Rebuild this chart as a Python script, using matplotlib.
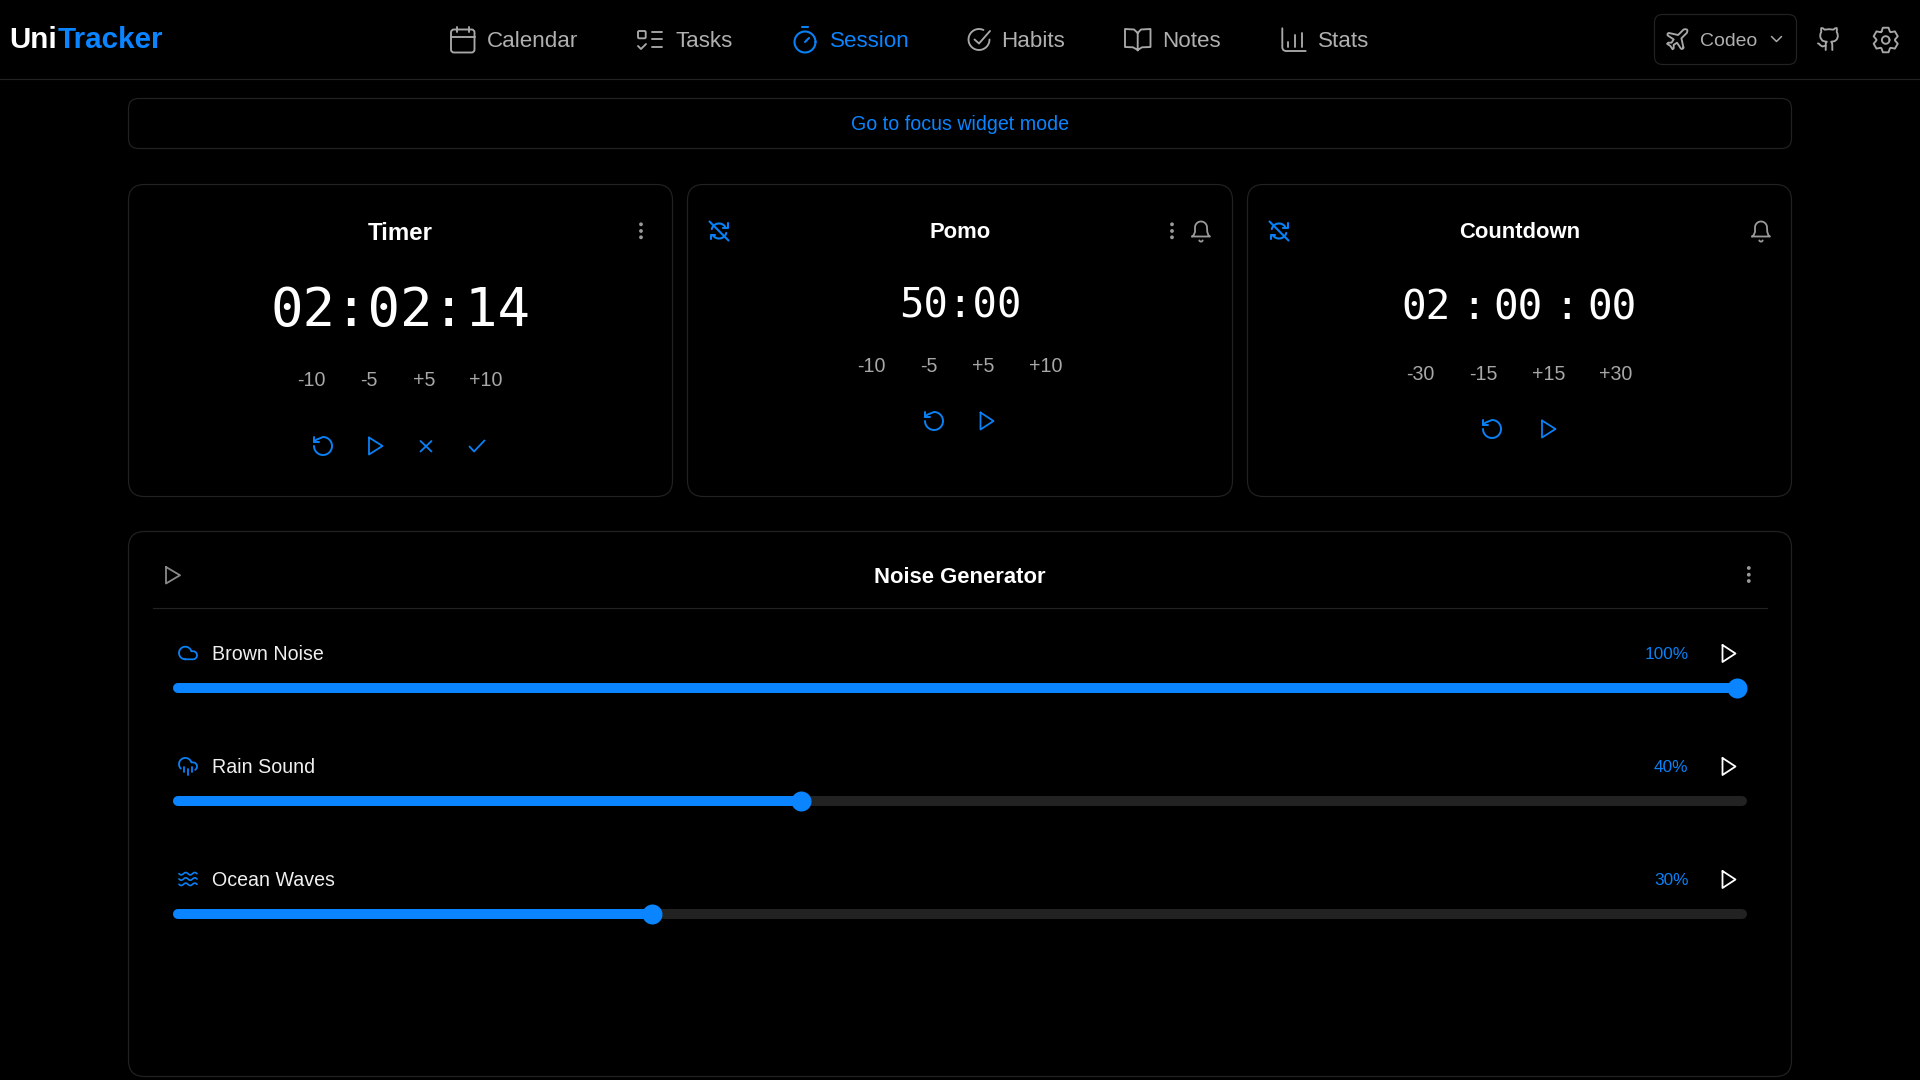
#!/usr/bin/env python3
import numpy as np
import matplotlib
matplotlib.use("Agg")
import matplotlib.pyplot as plt
from matplotlib.patches import FancyBboxPatch, Circle

BLUE = "#0a84ff"
ICON_BLUE = "#0a80f5"
GREY = "#a8a8a8"
BORDER = "#222222"
TRACK = "#222222"

# header
nav_labels = ["Calendar", "Tasks", "Session", "Habits", "Notes", "Stats"]
nav_x = [487, 675, 830, 1001.5, 1162.5, 1318]
focus_link = "Go to focus widget mode"
profile_name = "Codeo"

# timer cards
card_titles = ["Timer", "Pomo", "Countdown"]
card_title_x = [400.5, 960, 1519.5]
card_title_y = [239.5, 238.5, 238.5]
card_title_size = [24, 22, 22]
timer_value = "02:02:14"
pomo_value = "50:00"
countdown_parts = ["02", ":", "00", ":", "00"]
countdown_x = [1425.5, 1473.5, 1518, 1566.5, 1611.5]
timer_steps = ["-10", "-5", "+5", "+10"]
timer_step_x = [311.5, 369, 424, 486]
pomo_steps = ["-10", "-5", "+5", "+10"]
pomo_step_x = [871.5, 929, 983.5, 1045.5]
countdown_steps = ["-30", "-15", "+15", "+30"]
countdown_step_x = [1420, 1483.5, 1548.5, 1616]

# noise generator
noise_title = "Noise Generator"
noise_names = ["Brown Noise", "Rain Sound", "Ocean Waves"]
noise_pct_labels = ["100%", "40%", "30%"]
noise_levels = [100, 39.8, 30.2]
noise_rows_y = [688, 801, 914]

fig = plt.figure(figsize=(19.2, 10.8), dpi=100, facecolor="black")
ax = fig.add_axes([0, 0, 1, 1])
ax.set_xlim(0, 1920)
ax.set_ylim(1080, 0)
ax.axis("off")


def label(x, y, s, size, color="white", ha="left", weight="normal", family="Liberation Sans"):
    # size is in screen pixels, y is the baseline
    ax.text(x, y, s, fontsize=size * 0.72, color=color, ha=ha, va="baseline",
            fontweight=weight, family=family)


def box(x0, y0, x1, y1, r, color=BORDER, lw=0.85):
    ax.add_patch(FancyBboxPatch((x0, y0), x1 - x0, y1 - y0, boxstyle=f"round,pad=0,rounding_size={r}",
                                fc="none", ec=color, lw=lw))


def stroke(points, color=GREY, lw=1.35):
    pts = np.array(points, dtype=float)
    ax.plot(pts[:, 0], pts[:, 1], color=color, lw=lw, solid_capstyle="round", solid_joinstyle="round")


def arc(cx, cy, r, t0, t1, n=40):
    t = np.radians(np.linspace(t0, t1, n))
    return np.column_stack([cx + r * np.cos(t), cy + r * np.sin(t)])


def glyph(cx, cy, scale, paths, color=GREY, lw=1.35):
    # paths are drawn on a 24x24 grid centred on (12, 12)
    for path in paths:
        pts = (np.array(path, dtype=float) - 12) * scale + [cx, cy]
        stroke(pts, color, lw)


def play(x0, x1, y0, y1, color):
    ym = (y0 + y1) / 2
    stroke([(x0, y0), (x1, ym), (x0, y1), (x0, y0)], color, 1.3)


def kebab(x, ys, color="#9a9a9a"):
    for y in ys:
        ax.add_patch(Circle((x, y), 1.9, fc=color, ec="none"))


def undo(cx, cy):
    ring = arc(12, 12, 9, 180, -90)
    tail = [(5.26, 5.74), (3, 8)]
    glyph(cx, cy, 1.0, [np.vstack([ring, tail]), [(3, 3), (3, 8), (8, 8)]], ICON_BLUE, 1.4)


def bell(cx, cy, color="#9a9a9a"):
    dome = arc(12, 8, 6, 180, 360)
    body = np.vstack([[(3, 17), (4.5, 15.8), (6, 12.5)], [(6, 8)], dome, [(18, 8), (18.3, 12.5), (19.5, 15.8), (21, 17), (3, 17)]])
    glyph(cx, cy, 1.0, [body, arc(12, 20.3, 1.8, 20, 160)], color, 1.3)


def repeat_off(cx, cy):
    upper = arc(cx, cy, 7.5, 195, 325)
    lower = arc(cx, cy, 7.5, 15, 145)
    c = ICON_BLUE
    stroke(upper, c, 1.5)
    stroke(lower, c, 1.5)
    stroke([(cx + 8.5, cy - 8), (cx + 8.5, cy - 3.5), (cx + 4, cy - 3.5)], c, 1.5)
    stroke([(cx - 8.5, cy + 8), (cx - 8.5, cy + 3.5), (cx - 4, cy + 3.5)], c, 1.5)
    stroke([(cx - 9.5, cy - 9.5), (cx + 9.5, cy + 9.5)], c, 1.5)


def nav_icons():
    box(451, 29.5, 474.5, 52.5, 3, GREY, 1.35)
    stroke([(451, 36.7), (474.5, 36.7)])
    stroke([(457.3, 26.7), (457.3, 31.5)])
    stroke([(469.3, 26.7), (469.3, 31.5)])

    box(638, 31, 645.7, 38.3, 1.2, GREY, 1.35)
    for y in (31.7, 39, 47):
        stroke([(651.7, y), (661.7, y)])
    stroke([(638, 46), (641, 49), (646, 44)])

    stroke(arc(805, 42, 10.5, 0, 360), ICON_BLUE, 1.5)
    stroke([(802, 27.3), (808, 27.3)], ICON_BLUE, 1.5)
    stroke([(805, 42), (809, 38)], ICON_BLUE, 1.5)

    stroke(arc(979, 39.5, 10.5, 0, 295))
    stroke([(974.5, 39.5), (979, 43.5), (990, 31)])

    stroke([(1137.7, 33), (1134, 29.5), (1125, 29), (1125, 47), (1133, 47.3), (1137.7, 50),
            (1142, 47.3), (1150.5, 47), (1150.5, 29), (1141, 29.5), (1137.7, 33), (1137.7, 50.5)])

    stroke([(1282.3, 28.3), (1282.3, 48), (1283.3, 50), (1285.3, 51), (1305.7, 51)])
    stroke([(1288.3, 42.3), (1288.3, 46.7)])
    stroke([(1295, 35), (1295, 46.7)])
    stroke([(1301.7, 33.3), (1301.7, 46.7)])


def toolbar_icons():
    plane = [(17.8, 19.2), (16, 11), (19.5, 7.5), (21, 6), (21.5, 4), (21, 3), (19.5, 2.7), (18, 3),
             (16.5, 4.5), (13, 8), (4.8, 6.2), (4.2, 6.2), (3.7, 6.7), (3.4, 7.2), (3.3, 7.9), (3.7, 8.5),
             (9, 12), (7, 15), (4, 15), (3, 16), (6, 18), (8, 21), (9, 20), (9, 17), (12, 15), (15.5, 20.3),
             (16.2, 20.7), (16.8, 20.6), (17.3, 20.4), (17.8, 20), (17.8, 19.2)]
    glyph(1677, 39.4, 1.1, [plane])
    stroke([(1771.5, 36.5), (1776.5, 41.5), (1781.5, 36.5)], GREY, 1.1)

    cat = [(15, 22), (15, 18), (14.8, 16), (14, 14.5), (17, 14), (19, 12.5), (20, 10), (20, 9), (19.7, 7),
           (19, 5.5), (19.2, 3.8), (19, 2), (17.5, 2.3), (16, 3.5), (12, 3.1), (8, 3.5), (6.5, 2.3), (5, 2),
           (4.8, 3.8), (5, 5.5), (4.3, 7), (4, 9), (4.3, 11), (6, 13.5), (8, 14.2), (10, 14.5), (9.4, 15.3),
           (9.1, 16.2), (9, 18), (9, 22)]
    tail = [(9, 18), (6, 18.8), (4, 17.6), (3, 16.4), (2, 16)]
    glyph(1829, 39, 1.1, [cat, tail])

    # gear: six teeth around a small hub
    cx, cy = 1885.7, 40
    pts = []
    for k in range(6):
        a = k * 60 - 90
        for da, r in [(-27, 9.3), (-13, 12.6), (13, 12.6), (27, 9.3)]:
            t = np.radians(a + da)
            pts.append((cx + r * np.cos(t), cy + r * np.sin(t)))
    pts.append(pts[0])
    stroke(pts)
    stroke(arc(cx, cy, 3.8, 0, 360))


def draw_header():
    label(9.5, 48.5, "Uni", 29.6, "white", weight="bold")
    label(57.5, 48.5, "Tracker", 29.6, BLUE, weight="bold")
    for name, x in zip(nav_labels, nav_x):
        label(x, 47, name, 22.4, BLUE if name == "Session" else "#b0b0b0")
    nav_icons()
    box(1654.5, 14.5, 1796.5, 64.5, 8)
    label(1700, 45.5, profile_name, 19.4, "#b0b0b0")
    toolbar_icons()
    ax.plot([0, 1920], [79, 79], color=BORDER, lw=0.85)
    box(128.5, 98.5, 1791.5, 148.5, 10)
    label(960, 130, focus_link, 19.6, BLUE, ha="center")


def draw_cards():
    box(128.5, 184.5, 672.5, 496.5, 16)
    box(687.5, 184.5, 1232.5, 496.5, 16)
    box(1247.5, 184.5, 1791.5, 496.5, 16)
    for title, x, y, size in zip(card_titles, card_title_x, card_title_y, card_title_size):
        label(x, y, title, size, "white", ha="center", weight="bold")

    mono = "DejaVu Sans Mono"
    label(400.5, 326, timer_value, 54, "white", ha="center", family=mono)
    label(960.5, 318, pomo_value, 40.6, "white", ha="center", family=mono)
    for part, x in zip(countdown_parts, countdown_x):
        label(x, 319, part, 41, "white", ha="center", family=mono)

    for steps, xs, y in [(timer_steps, timer_step_x, 385.7), (pomo_steps, pomo_step_x, 371.7),
                         (countdown_steps, countdown_step_x, 379.7)]:
        for step, x in zip(steps, xs):
            label(x, y, step, 19.6, GREY, ha="center")

    undo(323, 446)
    play(369, 382.5, 437.5, 454.5, ICON_BLUE)
    stroke([(420.5, 441), (431.5, 451.5)], ICON_BLUE, 1.3)
    stroke([(431.5, 441), (420.5, 451.5)], ICON_BLUE, 1.3)
    stroke([(469.5, 446.5), (474, 451.5), (484.5, 440.5)], ICON_BLUE, 1.3)

    undo(934, 421)
    play(980.5, 993.5, 412.5, 429.5, ICON_BLUE)
    undo(1492, 429)
    play(1542, 1555.5, 420.5, 437.5, ICON_BLUE)

    kebab(641, [224.3, 231, 237.3])
    kebab(1172, [224.3, 231, 237.3])
    bell(1201, 231.5)
    bell(1761, 231.5)
    repeat_off(719, 231)
    repeat_off(1279, 231)


def noise_icon(name, cx, cy):
    if name == "Brown Noise":
        path = np.vstack([arc(9, 12, 7, 90, 343.4), arc(17.5, 14.5, 4.5, -90, 90), [(9, 19)]])
        glyph(cx, cy, 0.9, [path], ICON_BLUE, 1.3)
    elif name == "Rain Sound":
        path = np.vstack([arc(9, 10, 7, 135.6, 343.4), arc(17.5, 12.5, 4.5, -90, 56)])
        drops = [[(8, 13), (8, 19)], [(12, 15), (12, 22)], [(16, 13), (16, 19)]]
        glyph(cx, cy, 0.9, [path] + drops, ICON_BLUE, 1.3)
    else:
        xs = np.linspace(cx - 9, cx + 9, 41)
        for dy in (-5.3, 0, 5.3):
            stroke(np.column_stack([xs, cy + dy + 1.2 * np.sin((xs - cx) * 0.7)]), ICON_BLUE, 1.2)


def draw_noise():
    box(128.5, 531.5, 1791.5, 1076.5, 16)
    play(166, 180, 567, 583.5, "#8a8a8a")
    label(960, 583, noise_title, 22, "white", ha="center", weight="bold")
    kebab(1748.8, [568, 574.7, 581])
    ax.plot([153, 1767], [608, 608], color=BORDER, lw=0.85)

    for name, pct, level, y in zip(noise_names, noise_pct_labels, noise_levels, noise_rows_y):
        label(212, y - 28, name, 19.6, "#f0f0f0")
        noise_icon(name, 188, y - 35)
        label(1688.5, y - 29, pct, 17.2, ICON_BLUE, ha="right")
        play(1722.5, 1735.5, y - 43, y - 26, "white")
        draw_slider(y, level)


def draw_slider(y, level):
    # the axes spans the track; 0 and 100 are where the thumb centre stops
    left, right, half = 173, 1747, 12
    thumb_travel = right - left - 20
    pad = 10 / thumb_travel * 100
    cap = 5 / thumb_travel * 100
    sl = fig.add_axes([left / 1920, 1 - (y + half) / 1080, (right - left) / 1920, 2 * half / 1080])
    sl.set_xlim(-pad, 100 + pad)
    sl.set_ylim(-half, half)
    sl.axis("off")
    sl.patch.set_alpha(0)
    sl.plot([-pad + cap, 100 + pad - cap], [0, 0], color=TRACK, lw=7.2, solid_capstyle="round")
    sl.plot([-pad + cap, level], [0, 0], color=BLUE, lw=7.2, solid_capstyle="round")
    sl.plot([level], [0], "o", color=BLUE, ms=14.4, mew=0)


def main():
    draw_header()
    draw_cards()
    draw_noise()
    fig.savefig("out.png", dpi=100, facecolor="black")


if __name__ == "__main__":
    main()
